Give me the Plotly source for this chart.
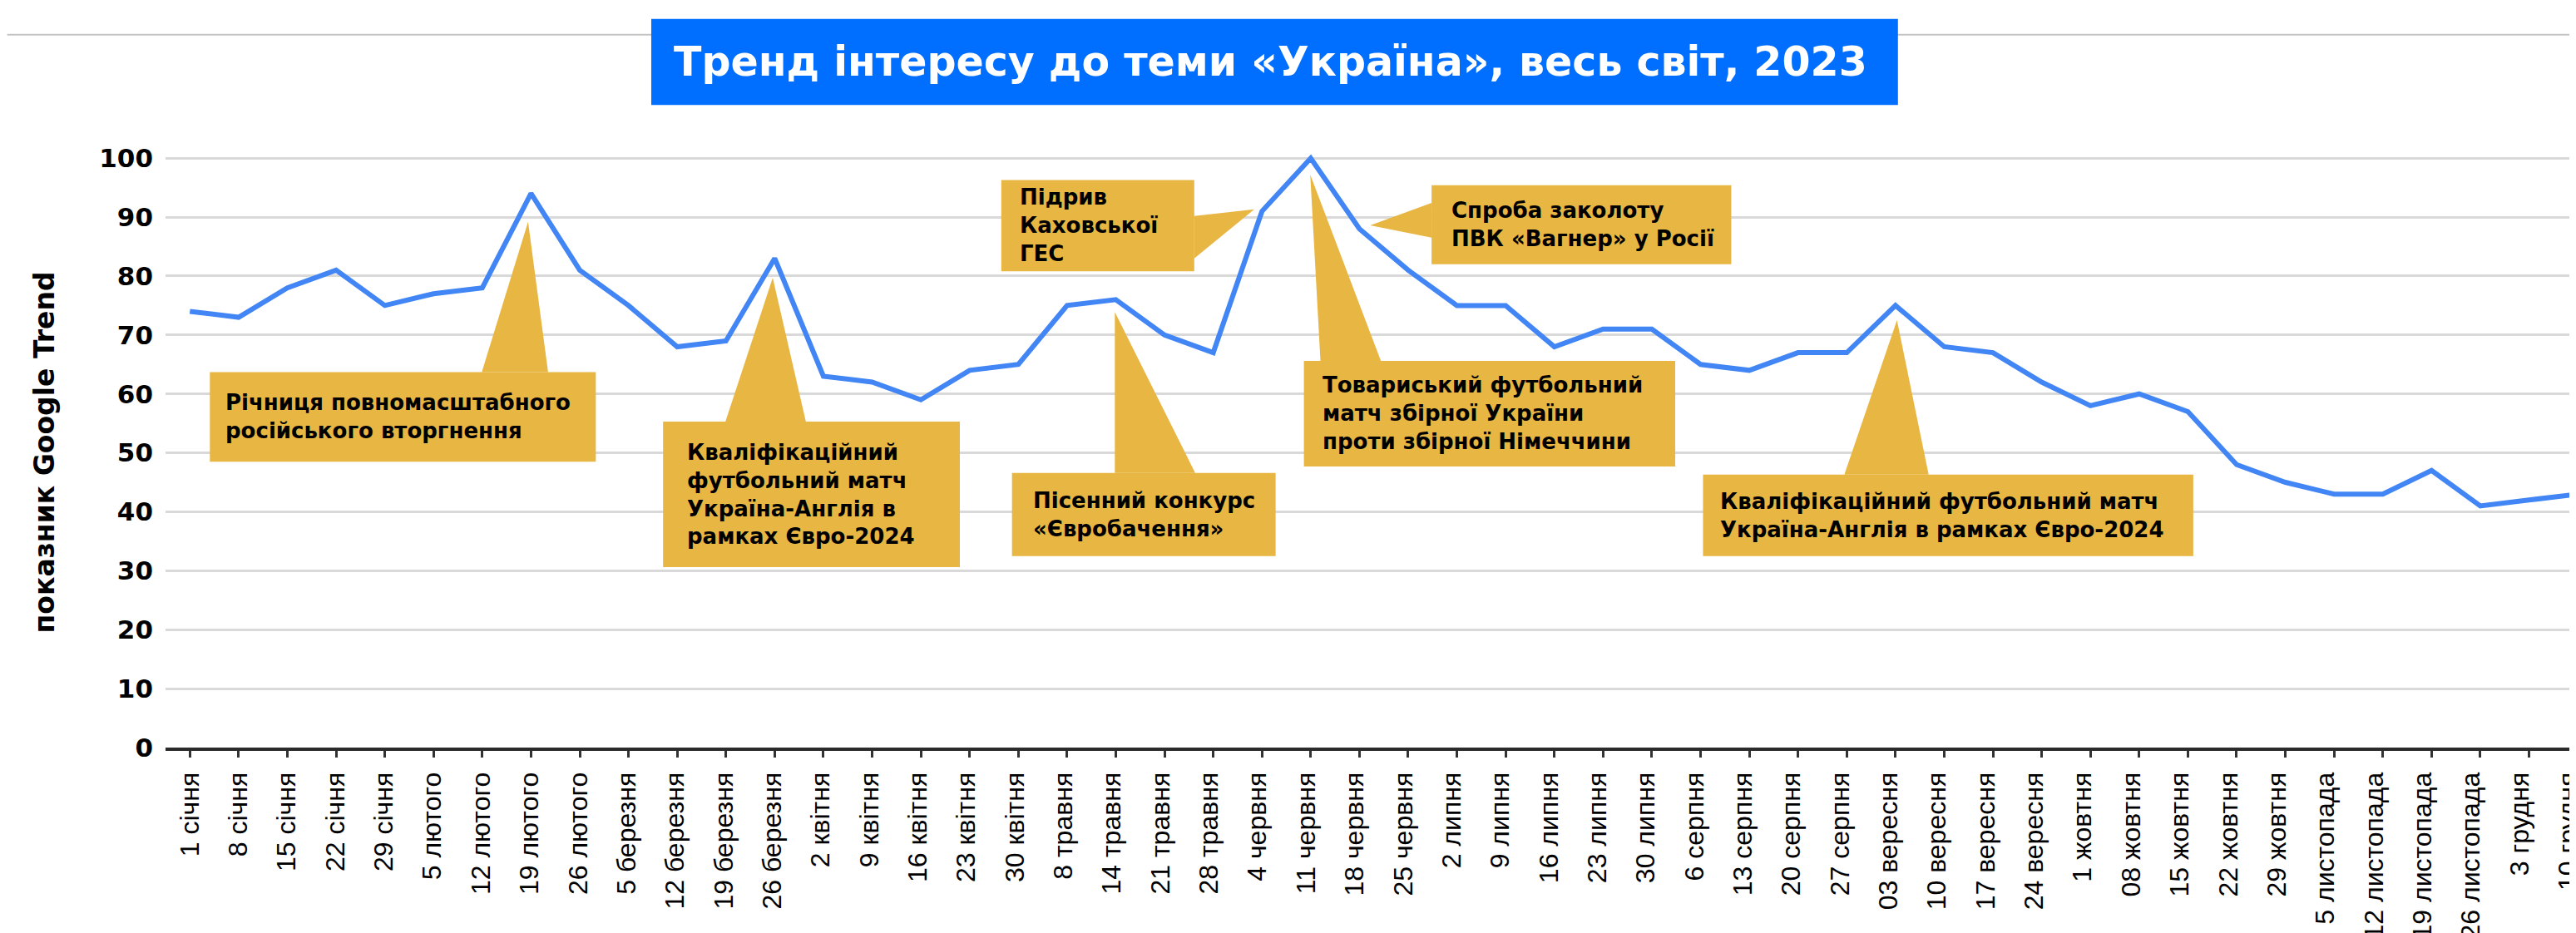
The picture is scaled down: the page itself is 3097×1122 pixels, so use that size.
import plotly.graph_objects as go

# ---------------- data ----------------
dates = ["1 січня", "8 січня", "15 січня", "22 січня", "29 січня",
         "5 лютого", "12 лютого", "19 лютого", "26 лютого",
         "5 березня", "12 березня", "19 березня", "26 березня",
         "2 квітня", "9 квітня", "16 квітня", "23 квітня", "30 квітня",
         "8 травня", "14 травня", "21 травня", "28 травня",
         "4 червня", "11 червня", "18 червня", "25 червня",
         "2 липня", "9 липня", "16 липня", "23 липня", "30 липня",
         "6 серпня", "13 серпня", "20 серпня", "27 серпня",
         "03 вересня", "10 вересня", "17 вересня", "24 вересня",
         "1 жовтня", "08 жовтня", "15 жовтня", "22 жовтня", "29 жовтня",
         "5 листопада", "12 листопада", "19 листопада", "26 листопада",
         "3 грудня", "10 грудня"]
interest = [74, 73, 78, 81, 75, 77, 78, 94, 81, 75, 68, 69, 83, 63, 62, 59, 64, 65,
            75, 76, 70, 67, 91, 100, 88, 81, 75, 75, 68, 71, 71, 65, 64, 67, 67,
            75, 68, 67, 62, 58, 60, 57, 48, 45, 43, 43, 47, 41, 42, 43]
y_ticks = [0, 10, 20, 30, 40, 50, 60, 70, 80, 90, 100]

title_text = "Тренд інтересу до теми «Україна», весь світ, 2023"
y_title = "показник Google Trend"

callout_texts = [
    "Річниця повномасштабного<br>російського вторгнення",
    "Кваліфікаційний<br>футбольний матч<br>Україна-Англія в<br>рамках Євро-2024",
    "Пісенний конкурс<br>«Євробачення»",
    "Підрив<br>Каховської<br>ГЕС",
    "Спроба заколоту<br>ПВК «Вагнер» у Росії",
    "Товариський футбольний<br>матч збірної України<br>проти збірної Німеччини",
    "Кваліфікаційний футбольний матч<br>Україна-Англія в рамках Євро-2024",
]

# ---------------- layout geometry (pixels of the 3097x1122 page) ----------------
W, H = 3097, 1122
M_L, M_R, M_T, M_B = 191, 0, 168, 227
PLOT_W = W - M_L - M_R
PLOT_H = H - M_T - M_B
X_RANGE = [-0.5, 48.93]
LABEL_DRIFT = 0.996  # tick labels sit on a slightly tighter pitch than the tick marks


def px(X):
    return (X - M_L) / PLOT_W


def py(Y):
    return (H - M_B - Y) / PLOT_H


# callout boxes, pointer triangles and text anchors in axis units (category index, value)
callout_boxes = [
    (0.41, 8.33, 48.5, 63.7),
    (9.71, 15.80, 30.6, 55.3),
    (16.87, 22.28, 32.5, 46.6),
    (16.65, 20.61, 80.8, 96.3),
    (25.48, 31.63, 82.0, 95.4),
    (22.86, 30.48, 47.7, 65.6),
    (31.05, 41.11, 32.5, 46.3),
]
callout_pointers = [
    [(5.99, 63.7), (7.35, 63.7), (6.94, 89.2)],
    [(10.99, 55.3), (12.64, 55.3), (11.96, 79.7)],
    [(18.98, 46.6), (20.63, 46.6), (18.98, 73.9)],
    [(20.61, 90.2), (20.61, 83.0), (21.84, 91.3)],
    [(25.48, 92.4), (25.48, 86.5), (24.22, 88.6)],
    [(23.20, 65.6), (24.44, 65.6), (22.99, 97.2)],
    [(33.95, 46.3), (35.68, 46.3), (35.03, 72.5)],
]
callout_anchor = [
    (0.70, 56.1), (10.17, 42.9), (17.26, 39.5), (17.0, 88.6),
    (25.85, 88.7), (23.21, 56.7), (31.36, 39.4),
]

GOLD = "#E8B642"
BLUE_LINE = "#4285F4"
TITLE_BLUE = "#006FFF"
BOLD_FONT = "DejaVu Sans"

fig = go.Figure()
fig.add_trace(go.Scatter(
    x=list(range(len(dates))), y=interest, mode="lines",
    line=dict(color=BLUE_LINE, width=6), hoverinfo="skip", showlegend=False,
))

shapes = []
annotations = []

# thin grey rule at top
shapes.append(dict(type="line", xref="paper", yref="paper",
                   x0=px(0), x1=px(W), y0=py(33), y1=py(33),
                   line=dict(color="#c4c4c4", width=2), layer="above"))
# title box
shapes.append(dict(type="rect", xref="paper", yref="paper",
                   x0=px(777), x1=px(2281), y0=py(118), y1=py(14),
                   fillcolor=TITLE_BLUE, line=dict(width=0), layer="above"))
annotations.append(dict(xref="paper", yref="paper", x=px(1524), y=py(66),
                        text="<b>" + title_text + "</b>", showarrow=False,
                        xanchor="center", yanchor="middle",
                        font=dict(family=BOLD_FONT, size=49, color="white")))
# y axis title
annotations.append(dict(xref="paper", yref="paper", x=px(45), y=py(538),
                        text="<b>" + y_title + "</b>", showarrow=False, textangle=-90,
                        xanchor="center", yanchor="middle",
                        font=dict(family=BOLD_FONT, size=33, color="black")))

for txt, box, tri, anc in zip(callout_texts, callout_boxes, callout_pointers, callout_anchor):
    x0, x1, y0, y1 = box
    shapes.append(dict(type="rect", xref="x", yref="y", x0=x0, x1=x1, y0=y0, y1=y1,
                       fillcolor=GOLD, line=dict(width=0), layer="between"))
    path = "M {},{} L {},{} L {},{} Z".format(tri[0][0], tri[0][1], tri[1][0], tri[1][1],
                                              tri[2][0], tri[2][1])
    shapes.append(dict(type="path", xref="x", yref="y", path=path,
                       fillcolor=GOLD, line=dict(width=0), layer="between"))
    annotations.append(dict(xref="x", yref="y", x=anc[0], y=anc[1],
                            text="<b>" + txt + "</b>", showarrow=False,
                            xanchor="left", yanchor="middle", align="left",
                            font=dict(family=BOLD_FONT, size=26, color="black")))

idx = list(range(len(dates)))
fig.update_layout(
    width=W, height=H,
    margin=dict(l=M_L, r=M_R, t=M_T, b=M_B, pad=0),
    paper_bgcolor="white", plot_bgcolor="white",
    shapes=shapes, annotations=annotations,
    showlegend=False,
    xaxis=dict(
        range=X_RANGE, tickmode="array", tickvals=idx,
        showticklabels=False, showgrid=False, zeroline=False,
        showline=True, linecolor="#2b2b2b", linewidth=4,
        ticks="outside", ticklen=8, tickwidth=2.5, tickcolor="#333333",
    ),
    xaxis2=dict(
        overlaying="x", anchor="y", side="bottom", range=X_RANGE,
        tickmode="array", tickvals=[i * LABEL_DRIFT for i in idx], ticktext=dates,
        tickangle=-90, showgrid=False, zeroline=False, showline=False,
        ticks="outside", ticklen=8, tickcolor="rgba(0,0,0,0)",
        tickfont=dict(family="Liberation Sans", size=32, color="black"),
        ticklabelstandoff=8, ticklabeloverflow="allow",
    ),
    yaxis=dict(
        range=[0, 102], tickmode="array", tickvals=y_ticks,
        ticktext=[str(v) for v in y_ticks],
        showgrid=True, gridcolor="#d9d9d9", gridwidth=3, zeroline=False,
        showline=False, ticks="",
        tickfont=dict(family=BOLD_FONT, size=31, color="black", weight="bold"),
        ticklabelstandoff=14,
    ),
)
# invisible companion trace so the label axis is rendered
fig.add_trace(go.Scatter(x=[None], y=[None], xaxis="x2", yaxis="y",
                         mode="lines", showlegend=False, hoverinfo="skip"))

fig.write_html("out.html")
